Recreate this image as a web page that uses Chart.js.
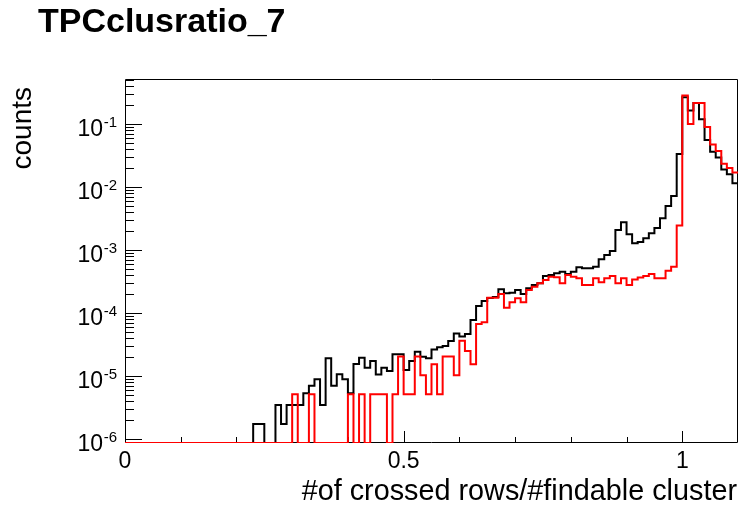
<!DOCTYPE html>
<html>
<head>
<meta charset="utf-8">
<script src="https://cdn.jsdelivr.net/npm/chart.js@4.4.1/dist/chart.umd.min.js"></script>
<style>
  html, body { margin: 0; padding: 0; background: #fff; }
  #wrap { width: 738px; height: 508px; }
</style>
</head>
<body>
<div id="wrap"><canvas id="c" width="738" height="508"></canvas></div>
<script>
// ---- data ----
const chartTitle = "TPCclusratio_7";
const xTitle = "#of crossed rows/#findable cluster";
const yTitle = "counts";
const nBins = 110;
const xLow = 0;
const xHigh = 1.1;
const xTickValues = [0, 0.5, 1];
const xTickLabels = ["0", "0.5", "1"];
const yDecadeExps = [-6, -5, -4, -3, -2, -1];
const yMin = 8.735e-7;
const yMax = 0.5237;

// black histogram (bins of width 0.01 from 0 to 1.1)
const blackCounts = [
  0,0,0,0,0,0,0,0,0,0, 0,0,0,0,0,0,0,0,0,0, 0,0,0,
  1.75e-6, 1.75e-6, 0, 0, 3.5e-6, 1.75e-6, 3.5e-6, 3.5e-6, 3.5e-6, 5.4e-6, 7.1e-6,
  9.0e-6, 3.5e-6, 1.93e-5, 7.1e-6, 1.08e-5, 9.0e-6, 5.4e-6, 1.57e-5, 1.97e-5, 1.37e-5,
  1.75e-5, 1.07e-5, 1.37e-5, 1.21e-5, 2.24e-5, 2.24e-5, 1.26e-5, 1.75e-5, 2.46e-5, 2.05e-5,
  1.93e-5, 2.66e-5, 2.89e-5, 3.03e-5, 3.63e-5, 4.78e-5, 4.28e-5, 4.69e-5, 7.83e-5, 1.31e-4,
  1.57e-4, 1.75e-4, 1.81e-4, 2.40e-4, 2.08e-4, 2.12e-4, 2.34e-4, 2.02e-4, 2.49e-4, 2.81e-4,
  2.99e-4, 3.91e-4, 4.05e-4, 4.32e-4, 4.57e-4, 4.21e-4, 4.57e-4, 5.37e-4, 5.18e-4, 5.18e-4,
  5.49e-4, 7.19e-4, 8.42e-4, 9.75e-4, 2.10e-3, 2.78e-3, 1.80e-3, 1.29e-3, 1.36e-3, 1.55e-3,
  1.86e-3, 2.26e-3, 3.22e-3, 5.05e-3, 7.28e-3, 3.38e-2, 0.27, 0.166, 0.218, 0.120,
  5.64e-2, 3.67e-2, 2.97e-2, 1.92e-2, 1.61e-2, 1.16e-2
];

// red histogram
const redCounts = [
  0,0,0,0,0,0,0,0,0,0, 0,0,0,0,0,0,0,0,0,0, 0,0,0,0,0,0,0,0,0,0,
  5.2e-6, 0, 0, 5.2e-6, 0, 0, 0, 0, 0, 0,
  5.2e-6, 0, 5.2e-6, 0, 5.2e-6, 5.2e-6, 5.2e-6, 0, 5.2e-6, 2.06e-5,
  5.2e-6, 5.2e-6, 2.06e-5, 1.04e-5, 5.2e-6, 1.56e-5, 5.2e-6, 2.06e-5, 2.06e-5, 1.04e-5,
  3.67e-5, 2.52e-5, 1.56e-5, 6.76e-5, 7.20e-5, 1.77e-4, 1.77e-4, 2.02e-4, 1.23e-4, 1.50e-4,
  1.73e-4, 1.50e-4, 2.34e-4, 2.64e-4, 2.99e-4, 3.38e-4, 3.81e-4, 3.73e-4, 2.99e-4, 4.05e-4,
  3.81e-4, 3.59e-4, 2.81e-4, 2.81e-4, 3.59e-4, 3.10e-4, 3.59e-4, 3.91e-4, 2.99e-4, 3.59e-4,
  2.81e-4, 3.44e-4, 3.70e-4, 3.91e-4, 4.21e-4, 3.59e-4, 3.59e-4, 4.74e-4, 5.49e-4, 2.48e-3,
  0.286, 0.101, 0.218, 0.218, 9.06e-2, 4.78e-2, 3.77e-2, 2.37e-2, 2.02e-2, 1.72e-2
];

// ---- build step points (left bin edges + closing edge) ----
function histPoints(counts) {
  const w = (xHigh - xLow) / nBins;
  const pts = [];
  for (let i = 0; i < counts.length; i++) {
    const v = counts[i] > 0 ? counts[i] : yMin;
    pts.push({ x: xLow + i * w, y: v });
  }
  pts.push({ x: xHigh, y: pts[pts.length - 1].y });
  return pts;
}

const FONT = "'Liberation Sans', Arial, Helvetica, sans-serif";

const rootFrame = {
  id: 'rootFrame',
  beforeDatasetsDraw(chart) {
    const ctx = chart.ctx;
    const { left, top, right, bottom } = chart.chartArea;
    const xs = chart.scales.x, ys = chart.scales.y;
    ctx.save();
    ctx.strokeStyle = '#000';
    ctx.lineWidth = 1;
    // frame
    ctx.beginPath();
    ctx.rect(Math.round(left) + 0.5, Math.round(top) + 0.5,
             Math.round(right) - Math.round(left) - 1, Math.round(bottom) - Math.round(top) - 1);
    ctx.stroke();
    // x ticks (inside)
    ctx.beginPath();
    for (let k = 0; k <= 11; k++) {
      const v = k * 0.1;
      const px = Math.round(xs.getPixelForValue(v)) + 0.5;
      const major = (k % 5 === 0);
      const len = major ? 12 : 6;
      ctx.moveTo(px, bottom);
      ctx.lineTo(px, bottom - len);
    }
    // y ticks (inside)
    for (const e of yDecadeExps) {
      for (let m = 1; m <= 9; m++) {
        const v = m * Math.pow(10, e);
        if (v > yMax || v < yMin) continue;
        const py = Math.round(ys.getPixelForValue(v)) + 0.5;
        const len = (m === 1) ? 17 : 9;
        ctx.moveTo(left, py);
        ctx.lineTo(left + len, py);
      }
    }
    ctx.stroke();
    ctx.restore();
  },
  afterDraw(chart) {
    const ctx = chart.ctx;
    const xs = chart.scales.x, ys = chart.scales.y;
    ctx.save();
    ctx.fillStyle = '#000';
    // title
    ctx.font = "bold 34px " + FONT;
    ctx.textAlign = 'left';
    ctx.textBaseline = 'alphabetic';
    ctx.fillText(chartTitle, 38, 32);
    // x tick labels
    ctx.font = "23px " + FONT;
    ctx.textAlign = 'center';
    for (let i = 0; i < xTickValues.length; i++) {
      ctx.fillText(xTickLabels[i], xs.getPixelForValue(xTickValues[i]), 468);
    }
    // y tick labels 10^n
    for (const e of yDecadeExps) {
      const py = ys.getPixelForValue(Math.pow(10, e));
      const expText = String(e);
      ctx.font = "15px " + FONT;
      ctx.textAlign = 'right';
      const expW = ctx.measureText(expText).width;
      const expRight = 117;
      ctx.fillText(expText, expRight, py + 2.5);
      ctx.font = "23px " + FONT;
      ctx.fillText("10", expRight - expW - 0.5, py + 11.5);
    }
    // x title
    ctx.font = "28.8px " + FONT;
    ctx.textAlign = 'right';
    ctx.fillText(xTitle, 737, 500);
    // y title
    ctx.save();
    ctx.translate(31, 87);
    ctx.rotate(-Math.PI / 2);
    ctx.textAlign = 'right';
    ctx.font = "28px " + FONT;
    ctx.fillText(yTitle, 0, 0);
    ctx.restore();
    ctx.restore();
  }
};

new Chart(document.getElementById('c'), {
  type: 'line',
  data: {
    datasets: [
      {
        label: 'red',
        data: histPoints(redCounts),
        borderColor: '#ff0000',
        backgroundColor: '#ff0000',
        borderWidth: 2,
        stepped: 'before',
        pointRadius: 0,
        fill: false,
        order: 1
      },
      {
        label: 'black',
        data: histPoints(blackCounts),
        borderColor: '#000000',
        backgroundColor: '#000000',
        borderWidth: 2,
        stepped: 'before',
        pointRadius: 0,
        fill: false,
        order: 2
      }
    ]
  },
  options: {
    responsive: false,
    animation: false,
    devicePixelRatio: 1,
    layout: { padding: { left: 125, top: 79, right: 0, bottom: 65 } },
    plugins: { legend: { display: false }, tooltip: { enabled: false }, title: { display: false } },
    elements: { line: { borderJoinStyle: 'miter', tension: 0 } },
    scales: {
      x: { type: 'linear', min: xLow, max: xHigh, display: false },
      y: { type: 'logarithmic', min: yMin, max: yMax, display: false }
    }
  },
  plugins: [rootFrame]
});
</script>
</body>
</html>
